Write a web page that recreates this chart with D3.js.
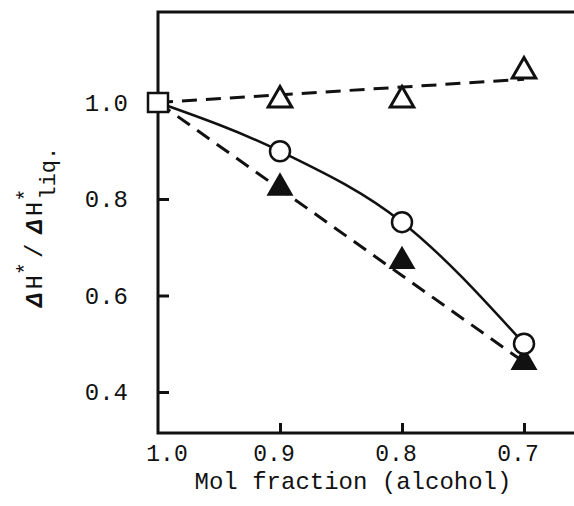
<!DOCTYPE html>
<html>
<head>
<meta charset="utf-8">
<script src="https://cdn.jsdelivr.net/npm/d3@7"></script>
<style>
  html, body { margin: 0; padding: 0; background: #fff; }
  svg { display: block; }
  text { font-family: "Liberation Mono", "DejaVu Sans Mono", monospace; fill: #111; }
</style>
</head>
<body>
<svg id="chart" width="574" height="506"></svg>
<script>
// ---- data ----
const molFraction = [1.0, 0.9, 0.8, 0.7];
const openCircle = [1.0, 0.899, 0.752, 0.50];     // solid curve
const openTriangleX = [0.9, 0.8, 0.7];
const openTriangle = [1.005, 1.005, 1.065];
const filledTriangleX = [0.9, 0.8, 0.7];
const filledTriangle = [0.823, 0.671, 0.462];
const referencePoint = [1.0, 1.0];                 // square (x, y)
const openFitX = [1.0, 0.7];
const openFitY = [1.0, 1.048];
const filledFitX = [1.0, 0.7];
const filledFitY = [1.0, 0.462];
const xTicks = [1.0, 0.9, 0.8, 0.7];
const xTickLabels = ["1.0", "0.9", "0.8", "0.7"];
const yTicks = [1.0, 0.8, 0.6, 0.4];
const yTickLabels = ["1.0", "0.8", "0.6", "0.4"];
const xTitle = "Mol fraction (alcohol)";

// ---- layout ----
const svg = d3.select("#chart");
const box = { left: 158, right: 574, top: 12, bottom: 433 };
const x = d3.scaleLinear().domain([1.0, 0.7]).range([158, 524]);
const y = d3.scaleLinear().domain([1.0, 0.4]).range([102.5, 392]);

// frame
const frame = svg.append("g").attr("stroke", "#111").attr("stroke-width", 3).attr("fill", "none");
frame.append("path").attr("d", `M${box.right},${box.top}H${box.left}V${box.bottom}H${box.right}`)
  .attr("stroke-linejoin", "miter");

// y ticks (inward)
const yAxis = d3.axisRight(y).tickValues(yTicks).tickSize(11).tickFormat("");
const gy = svg.append("g").attr("transform", `translate(${box.left},0)`).call(yAxis);
gy.select(".domain").remove();
gy.selectAll("line").attr("stroke", "#111").attr("stroke-width", 3);

// x ticks (inward)
const xAxis = d3.axisTop(x).tickValues(xTicks.filter(v => v !== 1.0)).tickSize(10).tickFormat("");
const gx = svg.append("g").attr("transform", `translate(0,${box.bottom})`).call(xAxis);
gx.select(".domain").remove();
gx.selectAll("line").attr("stroke", "#111").attr("stroke-width", 3);

// y tick labels
svg.append("g").selectAll("text").data(yTicks).join("text")
  .attr("x", 128).attr("y", d => y(d)).attr("dy", "0.35em")
  .attr("text-anchor", "end").attr("font-size", 24)
  .text((d, i) => yTickLabels[i]);

// x tick labels
svg.append("g").selectAll("text").data(xTicks).join("text")
  .attr("x", d => x(d) + (d === 1.0 ? 9 : -6)).attr("y", 461)
  .attr("text-anchor", "middle").attr("font-size", 23)
  .text((d, i) => xTickLabels[i]);

// x title
svg.append("text").attr("x", 353).attr("y", 489).attr("text-anchor", "middle")
  .attr("font-size", 24).text(xTitle);

// y title (rotated)
const yt = svg.append("text").attr("transform", "translate(42,307) rotate(-90)").attr("font-size", 24);
yt.append("tspan").attr("font-style", "italic").attr("font-weight", "bold").text("Δ");
yt.append("tspan").attr("dx", 3).text("H");
yt.append("tspan").attr("dy", -10).attr("font-size", 22).text("*");
yt.append("tspan").attr("dy", 10).attr("dx", 4).text("/");
yt.append("tspan").attr("dx", 10).attr("font-style", "italic").attr("font-weight", "bold").text("Δ");
yt.append("tspan").attr("dx", 3).text("H");
yt.append("tspan").attr("dy", -10).attr("font-size", 22).text("*");
yt.append("tspan").attr("dy", 23).attr("dx", -11).attr("font-size", 22).text("liq.");

// ---- lines ----
const lineG = svg.append("g").attr("fill", "none").attr("stroke", "#111");
const straight = d3.line().x(d => x(d[0])).y(d => y(d[1]));
lineG.append("path")
  .attr("d", straight(openFitX.map((v, i) => [v, openFitY[i]])))
  .attr("stroke-width", 3).attr("stroke-dasharray", "15,9");
lineG.append("path")
  .attr("d", straight(filledFitX.map((v, i) => [v, filledFitY[i]])))
  .attr("stroke-width", 3).attr("stroke-dasharray", "15,9");
const curve = d3.line().x(d => x(d[0])).y(d => y(d[1])).curve(d3.curveMonotoneX);
lineG.append("path")
  .attr("d", curve(molFraction.map((v, i) => [v, openCircle[i]])))
  .attr("stroke-width", 2.5);

// ---- markers ----
const tri = d3.symbol().type(d3.symbolTriangle).size(240);
svg.append("g").selectAll("path").data(filledTriangleX).join("path")
  .attr("transform", (d, i) => `translate(${x(d)},${y(filledTriangle[i])})`)
  .attr("d", tri).attr("fill", "#111").attr("stroke", "#111").attr("stroke-width", 2);
svg.append("g").selectAll("path").data(openTriangleX).join("path")
  .attr("transform", (d, i) => `translate(${x(d)},${y(openTriangle[i])})`)
  .attr("d", tri).attr("fill", "#fff").attr("stroke", "#111").attr("stroke-width", 3)
  .attr("stroke-linejoin", "miter");
svg.append("g").selectAll("circle").data(molFraction.slice(1)).join("circle")
  .attr("cx", d => x(d)).attr("cy", (d, i) => y(openCircle[i + 1])).attr("r", 10)
  .attr("fill", "#fff").attr("stroke", "#111").attr("stroke-width", 2.5);
svg.append("rect")
  .attr("x", x(referencePoint[0]) - 10).attr("y", y(referencePoint[1]) - 9.5)
  .attr("width", 20).attr("height", 19)
  .attr("fill", "#fff").attr("stroke", "#111").attr("stroke-width", 2.5);
</script>
</body>
</html>
